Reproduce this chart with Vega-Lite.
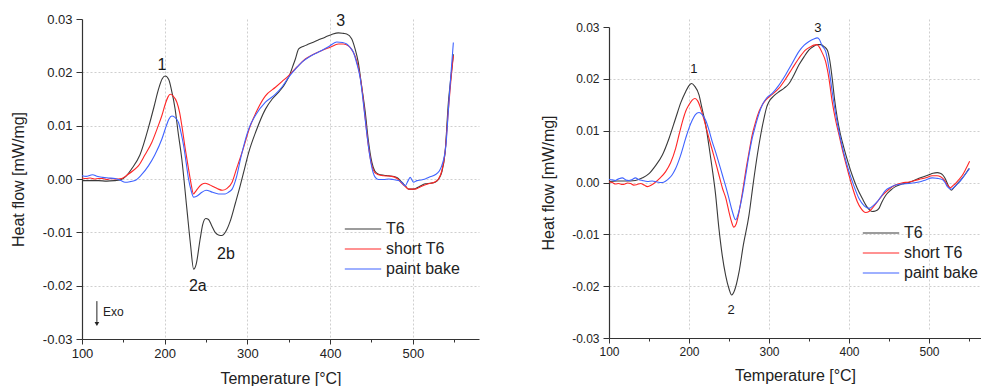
{
  "$schema": "https://vega.github.io/schema/vega-lite/v6.json",
  "padding": {"left": 10, "top": 13, "right": 0, "bottom": 0},
  "spacing": 61,
  "background": "white",
  "config": {
    "font": "Liberation Sans",
    "view": {"stroke": null},
    "axis": {
      "domainColor": "#333333",
      "tickColor": "#333333",
      "labelColor": "#222222",
      "titleColor": "#222222",
      "titleFontWeight": "normal",
      "titleFontSize": 16,
      "gridColor": "#cfcfcf",
      "gridDash": [2, 2],
      "gridWidth": 1,
      "domainWidth": 1.2,
      "labelFlush": false
    },
    "legend": {
      "labelFontSize": 16,
      "labelColor": "#222222",
      "symbolType": "M-2.6,0L2.6,0",
      "symbolStrokeWidth": 1.3,
      "symbolSize": 196,
      "rowPadding": 4,
      "labelOffset": 15,
      "padding": 0
    },
    "line": {"strokeWidth": 1.1, "interpolate": "monotone"}
  },
  "datasets": {
    "leftCurves": [
      {"s":"T6","t":100,"h":-0.0003},{"s":"T6","t":110,"h":-0.0003},{"s":"T6","t":120,"h":-0.0003},{"s":"T6","t":130,"h":-0.0004},{"s":"T6","t":140,"h":-0.0003},{"s":"T6","t":146,"h":-0.0002},{"s":"T6","t":153,"h":0.0005},{"s":"T6","t":160,"h":0.0019},{"s":"T6","t":170,"h":0.0045},{"s":"T6","t":181,"h":0.0100},{"s":"T6","t":187,"h":0.0135},{"s":"T6","t":192.6,"h":0.0169},{"s":"T6","t":197,"h":0.0188},{"s":"T6","t":200.6,"h":0.0193},{"s":"T6","t":205,"h":0.0186},{"s":"T6","t":208,"h":0.0168},{"s":"T6","t":212.6,"h":0.0131},{"s":"T6","t":216,"h":0.0090},{"s":"T6","t":220.7,"h":0.0037},{"s":"T6","t":226.8,"h":-0.0056},{"s":"T6","t":231,"h":-0.0120},{"s":"T6","t":235,"h":-0.0169},{"s":"T6","t":238,"h":-0.0160},{"s":"T6","t":242.8,"h":-0.0113},{"s":"T6","t":246,"h":-0.0085},{"s":"T6","t":249.7,"h":-0.0074},{"s":"T6","t":253,"h":-0.0076},{"s":"T6","t":257,"h":-0.0088},{"s":"T6","t":261,"h":-0.0100},{"s":"T6","t":265,"h":-0.0105},{"s":"T6","t":269,"h":-0.0106},{"s":"T6","t":274,"h":-0.0098},{"s":"T6","t":279,"h":-0.0080},{"s":"T6","t":285.5,"h":-0.0045},{"s":"T6","t":290,"h":-0.0020},{"s":"T6","t":295,"h":0.0010},{"s":"T6","t":301.6,"h":0.0050},{"s":"T6","t":310,"h":0.0088},{"s":"T6","t":321.8,"h":0.0131},{"s":"T6","t":330,"h":0.0150},{"s":"T6","t":337.8,"h":0.0163},{"s":"T6","t":344,"h":0.0175},{"s":"T6","t":349.9,"h":0.0191},{"s":"T6","t":355,"h":0.0212},{"s":"T6","t":358,"h":0.0225},{"s":"T6","t":362,"h":0.0244},{"s":"T6","t":368,"h":0.0249},{"s":"T6","t":374,"h":0.0253},{"s":"T6","t":385,"h":0.0260},{"s":"T6","t":394,"h":0.0266},{"s":"T6","t":402,"h":0.0271},{"s":"T6","t":410,"h":0.0274},{"s":"T6","t":416,"h":0.0273},{"s":"T6","t":420,"h":0.0272},{"s":"T6","t":426,"h":0.0263},{"s":"T6","t":430,"h":0.0245},{"s":"T6","t":434,"h":0.0219},{"s":"T6","t":438,"h":0.0175},{"s":"T6","t":442.5,"h":0.0125},{"s":"T6","t":446,"h":0.0075},{"s":"T6","t":450.5,"h":0.0031},{"s":"T6","t":454,"h":0.0015},{"s":"T6","t":458.6,"h":0.0009},{"s":"T6","t":465,"h":0.0007},{"s":"T6","t":470.6,"h":0.0006},{"s":"T6","t":480.7,"h":0.0003},{"s":"T6","t":486.7,"h":-0.0006},{"s":"T6","t":491,"h":-0.0013},{"s":"T6","t":494.8,"h":-0.0019},{"s":"T6","t":500.8,"h":-0.0019},{"s":"T6","t":508,"h":-0.0014},{"s":"T6","t":515,"h":-0.0009},{"s":"T6","t":521,"h":-0.0008},{"s":"T6","t":527,"h":-0.0006},{"s":"T6","t":532,"h":0.0002},{"s":"T6","t":535,"h":0.0013},{"s":"T6","t":539,"h":0.0050},{"s":"T6","t":543,"h":0.0144},{"s":"T6","t":546,"h":0.0190},{"s":"T6","t":549,"h":0.0234},
      {"s":"short T6","t":100,"h":0.0002},{"s":"short T6","t":105,"h":0.0001},{"s":"short T6","t":110,"h":0.0002},{"s":"short T6","t":115,"h":0.0000},{"s":"short T6","t":120,"h":0.0001},{"s":"short T6","t":125,"h":0.0001},{"s":"short T6","t":130,"h":-0.0001},{"s":"short T6","t":135,"h":0.0001},{"s":"short T6","t":140,"h":0.0000},{"s":"short T6","t":148,"h":0.0001},{"s":"short T6","t":155,"h":0.0008},{"s":"short T6","t":162,"h":0.0016},{"s":"short T6","t":168.4,"h":0.0025},{"s":"short T6","t":176,"h":0.0045},{"s":"short T6","t":184.5,"h":0.0069},{"s":"short T6","t":191,"h":0.0095},{"s":"short T6","t":196.6,"h":0.0119},{"s":"short T6","t":201,"h":0.0142},{"s":"short T6","t":204,"h":0.0154},{"s":"short T6","t":206.6,"h":0.0159},{"s":"short T6","t":210,"h":0.0156},{"s":"short T6","t":214.7,"h":0.0144},{"s":"short T6","t":218,"h":0.0125},{"s":"short T6","t":220.7,"h":0.0100},{"s":"short T6","t":225,"h":0.0055},{"s":"short T6","t":228.8,"h":0.0019},{"s":"short T6","t":232,"h":-0.0010},{"s":"short T6","t":234.8,"h":-0.0028},{"s":"short T6","t":237,"h":-0.0024},{"s":"short T6","t":240.8,"h":-0.0016},{"s":"short T6","t":245,"h":-0.0010},{"s":"short T6","t":248.9,"h":-0.0008},{"s":"short T6","t":253,"h":-0.0010},{"s":"short T6","t":257,"h":-0.0013},{"s":"short T6","t":261,"h":-0.0016},{"s":"short T6","t":265,"h":-0.0019},{"s":"short T6","t":269.4,"h":-0.0021},{"s":"short T6","t":275,"h":-0.0018},{"s":"short T6","t":281.5,"h":-0.0006},{"s":"short T6","t":287,"h":0.0020},{"s":"short T6","t":293.5,"h":0.0050},{"s":"short T6","t":303.6,"h":0.0100},{"s":"short T6","t":312,"h":0.0130},{"s":"short T6","t":321.8,"h":0.0156},{"s":"short T6","t":333.9,"h":0.0172},{"s":"short T6","t":342,"h":0.0183},{"s":"short T6","t":349.9,"h":0.0194},{"s":"short T6","t":360,"h":0.0210},{"s":"short T6","t":370,"h":0.0225},{"s":"short T6","t":380,"h":0.0234},{"s":"short T6","t":390,"h":0.0241},{"s":"short T6","t":400,"h":0.0247},{"s":"short T6","t":410,"h":0.0253},{"s":"short T6","t":416,"h":0.0253},{"s":"short T6","t":422,"h":0.0250},{"s":"short T6","t":426,"h":0.0243},{"s":"short T6","t":430,"h":0.0231},{"s":"short T6","t":434,"h":0.0210},{"s":"short T6","t":438,"h":0.0175},{"s":"short T6","t":442.5,"h":0.0113},{"s":"short T6","t":446,"h":0.0065},{"s":"short T6","t":450.5,"h":0.0025},{"s":"short T6","t":454,"h":0.0012},{"s":"short T6","t":458.6,"h":0.0008},{"s":"short T6","t":465,"h":0.0006},{"s":"short T6","t":474.6,"h":0.0005},{"s":"short T6","t":481,"h":0.0001},{"s":"short T6","t":486.7,"h":-0.0008},{"s":"short T6","t":491,"h":-0.0014},{"s":"short T6","t":494.8,"h":-0.0019},{"s":"short T6","t":502.8,"h":-0.0019},{"s":"short T6","t":510,"h":-0.0014},{"s":"short T6","t":519,"h":-0.0009},{"s":"short T6","t":526,"h":-0.0006},{"s":"short T6","t":531,"h":0.0000},{"s":"short T6","t":535,"h":0.0015},{"s":"short T6","t":539,"h":0.0050},{"s":"short T6","t":543,"h":0.0130},{"s":"short T6","t":546,"h":0.0185},{"s":"short T6","t":549,"h":0.0231},
      {"s":"paint bake","t":100,"h":0.0006},{"s":"paint bake","t":105,"h":0.0005},{"s":"paint bake","t":110,"h":0.0007},{"s":"paint bake","t":113,"h":0.0008},{"s":"paint bake","t":118,"h":0.0005},{"s":"paint bake","t":125,"h":0.0003},{"s":"paint bake","t":132,"h":0.0002},{"s":"paint bake","t":140,"h":0.0001},{"s":"paint bake","t":147,"h":-0.0003},{"s":"paint bake","t":152,"h":-0.0006},{"s":"paint bake","t":158,"h":-0.0005},{"s":"paint bake","t":164,"h":-0.0003},{"s":"paint bake","t":172,"h":0.0008},{"s":"paint bake","t":180.5,"h":0.0025},{"s":"paint bake","t":188,"h":0.0045},{"s":"paint bake","t":196.6,"h":0.0075},{"s":"paint bake","t":202,"h":0.0100},{"s":"paint bake","t":205,"h":0.0112},{"s":"paint bake","t":208.7,"h":0.0118},{"s":"paint bake","t":212,"h":0.0116},{"s":"paint bake","t":216.7,"h":0.0106},{"s":"paint bake","t":220,"h":0.0085},{"s":"paint bake","t":222.8,"h":0.0063},{"s":"paint bake","t":226,"h":0.0030},{"s":"paint bake","t":228.8,"h":0.0000},{"s":"paint bake","t":232,"h":-0.0022},{"s":"paint bake","t":234.8,"h":-0.0034},{"s":"paint bake","t":238,"h":-0.0033},{"s":"paint bake","t":244.9,"h":-0.0025},{"s":"paint bake","t":250,"h":-0.0021},{"s":"paint bake","t":252.9,"h":-0.0022},{"s":"paint bake","t":258,"h":-0.0025},{"s":"paint bake","t":265,"h":-0.0028},{"s":"paint bake","t":273,"h":-0.0028},{"s":"paint bake","t":277,"h":-0.0025},{"s":"paint bake","t":281.5,"h":-0.0019},{"s":"paint bake","t":287,"h":0.0005},{"s":"paint bake","t":292,"h":0.0040},{"s":"paint bake","t":301.6,"h":0.0094},{"s":"paint bake","t":310,"h":0.0120},{"s":"paint bake","t":321.8,"h":0.0144},{"s":"paint bake","t":333.9,"h":0.0159},{"s":"paint bake","t":342,"h":0.0173},{"s":"paint bake","t":349.9,"h":0.0191},{"s":"paint bake","t":358,"h":0.0206},{"s":"paint bake","t":366,"h":0.0219},{"s":"paint bake","t":376,"h":0.0230},{"s":"paint bake","t":386,"h":0.0238},{"s":"paint bake","t":398,"h":0.0248},{"s":"paint bake","t":408,"h":0.0257},{"s":"paint bake","t":415,"h":0.0256},{"s":"paint bake","t":420,"h":0.0253},{"s":"paint bake","t":424,"h":0.0247},{"s":"paint bake","t":428,"h":0.0238},{"s":"paint bake","t":432,"h":0.0218},{"s":"paint bake","t":436.5,"h":0.0188},{"s":"paint bake","t":440.5,"h":0.0138},{"s":"paint bake","t":444,"h":0.0090},{"s":"paint bake","t":448.5,"h":0.0038},{"s":"paint bake","t":452,"h":0.0012},{"s":"paint bake","t":454.6,"h":0.0003},{"s":"paint bake","t":458.6,"h":-0.0001},{"s":"paint bake","t":465,"h":-0.0001},{"s":"paint bake","t":470.6,"h":0.0000},{"s":"paint bake","t":476,"h":-0.0001},{"s":"paint bake","t":482.7,"h":-0.0003},{"s":"paint bake","t":487,"h":-0.0007},{"s":"paint bake","t":490.7,"h":-0.0013},{"s":"paint bake","t":494,"h":-0.0004},{"s":"paint bake","t":496.8,"h":0.0003},{"s":"paint bake","t":500.8,"h":-0.0006},{"s":"paint bake","t":505,"h":-0.0003},{"s":"paint bake","t":510,"h":-0.0002},{"s":"paint bake","t":515,"h":0.0000},{"s":"paint bake","t":521,"h":0.0004},{"s":"paint bake","t":527,"h":0.0008},{"s":"paint bake","t":532,"h":0.0015},{"s":"paint bake","t":535,"h":0.0025},{"s":"paint bake","t":540,"h":0.0063},{"s":"paint bake","t":543,"h":0.0130},{"s":"paint bake","t":545,"h":0.0175},{"s":"paint bake","t":549,"h":0.0256}
    ],
    "rightCurves": [
      {"s":"T6","t":100,"h":0.0002},{"s":"T6","t":110,"h":0.0003},{"s":"T6","t":120,"h":0.0003},{"s":"T6","t":133,"h":0.0004},{"s":"T6","t":142,"h":0.0009},{"s":"T6","t":150,"h":0.0017},{"s":"T6","t":158,"h":0.0032},{"s":"T6","t":166.7,"h":0.0053},{"s":"T6","t":175,"h":0.0085},{"s":"T6","t":183.3,"h":0.0124},{"s":"T6","t":190,"h":0.0155},{"s":"T6","t":195.8,"h":0.0175},{"s":"T6","t":200,"h":0.0187},{"s":"T6","t":203.3,"h":0.0191},{"s":"T6","t":207,"h":0.0186},{"s":"T6","t":212.5,"h":0.0169},{"s":"T6","t":216,"h":0.0145},{"s":"T6","t":220.8,"h":0.0111},{"s":"T6","t":225,"h":0.0070},{"s":"T6","t":229,"h":0.0027},{"s":"T6","t":233,"h":-0.0020},{"s":"T6","t":237.5,"h":-0.0090},{"s":"T6","t":241.5,"h":-0.0140},{"s":"T6","t":245.8,"h":-0.0179},{"s":"T6","t":250,"h":-0.0205},{"s":"T6","t":253.3,"h":-0.0217},{"s":"T6","t":257,"h":-0.0208},{"s":"T6","t":262.5,"h":-0.0173},{"s":"T6","t":268,"h":-0.0120},{"s":"T6","t":275,"h":-0.0063},{"s":"T6","t":280,"h":-0.0005},{"s":"T6","t":285.4,"h":0.0053},{"s":"T6","t":290,"h":0.0095},{"s":"T6","t":293.8,"h":0.0124},{"s":"T6","t":297,"h":0.0145},{"s":"T6","t":300,"h":0.0156},{"s":"T6","t":306,"h":0.0167},{"s":"T6","t":312.5,"h":0.0175},{"s":"T6","t":319,"h":0.0182},{"s":"T6","t":325,"h":0.0191},{"s":"T6","t":331,"h":0.0207},{"s":"T6","t":337.5,"h":0.0227},{"s":"T6","t":344,"h":0.0243},{"s":"T6","t":350,"h":0.0256},{"s":"T6","t":355,"h":0.0262},{"s":"T6","t":360.4,"h":0.0266},{"s":"T6","t":365,"h":0.0266},{"s":"T6","t":369,"h":0.0262},{"s":"T6","t":373,"h":0.0255},{"s":"T6","t":376,"h":0.0235},{"s":"T6","t":379,"h":0.0201},{"s":"T6","t":382,"h":0.0160},{"s":"T6","t":385.4,"h":0.0124},{"s":"T6","t":389,"h":0.0095},{"s":"T6","t":393.8,"h":0.0066},{"s":"T6","t":399,"h":0.0038},{"s":"T6","t":404,"h":0.0014},{"s":"T6","t":410,"h":-0.0010},{"s":"T6","t":416.7,"h":-0.0031},{"s":"T6","t":423,"h":-0.0048},{"s":"T6","t":429,"h":-0.0056},{"s":"T6","t":433,"h":-0.0055},{"s":"T6","t":437.5,"h":-0.0050},{"s":"T6","t":441,"h":-0.0038},{"s":"T6","t":445.8,"h":-0.0025},{"s":"T6","t":452,"h":-0.0015},{"s":"T6","t":458,"h":-0.0008},{"s":"T6","t":466,"h":-0.0003},{"s":"T6","t":475,"h":0.0000},{"s":"T6","t":487.5,"h":0.0008},{"s":"T6","t":500,"h":0.0015},{"s":"T6","t":505,"h":0.0018},{"s":"T6","t":510.4,"h":0.0019},{"s":"T6","t":514,"h":0.0018},{"s":"T6","t":517.5,"h":0.0014},{"s":"T6","t":520,"h":0.0008},{"s":"T6","t":523,"h":-0.0002},{"s":"T6","t":526,"h":-0.0012},{"s":"T6","t":528,"h":-0.0015},{"s":"T6","t":531,"h":-0.0010},{"s":"T6","t":537.5,"h":0.0001},{"s":"T6","t":544,"h":0.0013},{"s":"T6","t":550,"h":0.0027},
      {"s":"short T6","t":100,"h":0.0001},{"s":"short T6","t":104,"h":0.0000},{"s":"short T6","t":108,"h":-0.0003},{"s":"short T6","t":112,"h":-0.0002},{"s":"short T6","t":116.7,"h":-0.0004},{"s":"short T6","t":120,"h":-0.0003},{"s":"short T6","t":123,"h":-0.0001},{"s":"short T6","t":127,"h":-0.0002},{"s":"short T6","t":131,"h":-0.0005},{"s":"short T6","t":135,"h":-0.0004},{"s":"short T6","t":139.6,"h":-0.0002},{"s":"short T6","t":144,"h":-0.0005},{"s":"short T6","t":148,"h":-0.0008},{"s":"short T6","t":153,"h":-0.0005},{"s":"short T6","t":158.3,"h":0.0001},{"s":"short T6","t":164,"h":0.0009},{"s":"short T6","t":170.8,"h":0.0021},{"s":"short T6","t":177,"h":0.0038},{"s":"short T6","t":183.3,"h":0.0066},{"s":"short T6","t":188,"h":0.0095},{"s":"short T6","t":191.7,"h":0.0117},{"s":"short T6","t":196,"h":0.0138},{"s":"short T6","t":200,"h":0.0150},{"s":"short T6","t":204,"h":0.0159},{"s":"short T6","t":207.5,"h":0.0162},{"s":"short T6","t":211,"h":0.0157},{"s":"short T6","t":214.6,"h":0.0143},{"s":"short T6","t":219,"h":0.0120},{"s":"short T6","t":225,"h":0.0085},{"s":"short T6","t":231,"h":0.0052},{"s":"short T6","t":237.5,"h":0.0014},{"s":"short T6","t":242,"h":-0.0012},{"s":"short T6","t":246,"h":-0.0030},{"s":"short T6","t":250,"h":-0.0057},{"s":"short T6","t":253,"h":-0.0075},{"s":"short T6","t":256,"h":-0.0086},{"s":"short T6","t":259,"h":-0.0080},{"s":"short T6","t":262.5,"h":-0.0057},{"s":"short T6","t":266.7,"h":-0.0020},{"s":"short T6","t":270.8,"h":0.0021},{"s":"short T6","t":275,"h":0.0058},{"s":"short T6","t":279,"h":0.0092},{"s":"short T6","t":283.3,"h":0.0117},{"s":"short T6","t":287.5,"h":0.0137},{"s":"short T6","t":291.7,"h":0.0150},{"s":"short T6","t":295.8,"h":0.0159},{"s":"short T6","t":304,"h":0.0170},{"s":"short T6","t":312.5,"h":0.0182},{"s":"short T6","t":320,"h":0.0198},{"s":"short T6","t":329,"h":0.0220},{"s":"short T6","t":337.5,"h":0.0240},{"s":"short T6","t":345.8,"h":0.0256},{"s":"short T6","t":352,"h":0.0262},{"s":"short T6","t":356,"h":0.0265},{"s":"short T6","t":360,"h":0.0266},{"s":"short T6","t":362.5,"h":0.0262},{"s":"short T6","t":366,"h":0.0252},{"s":"short T6","t":370.8,"h":0.0233},{"s":"short T6","t":375,"h":0.0200},{"s":"short T6","t":379,"h":0.0156},{"s":"short T6","t":383,"h":0.0122},{"s":"short T6","t":387.5,"h":0.0092},{"s":"short T6","t":393,"h":0.0055},{"s":"short T6","t":400,"h":0.0014},{"s":"short T6","t":405,"h":-0.0013},{"s":"short T6","t":410.4,"h":-0.0037},{"s":"short T6","t":415,"h":-0.0050},{"s":"short T6","t":420.8,"h":-0.0058},{"s":"short T6","t":425,"h":-0.0056},{"s":"short T6","t":429,"h":-0.0050},{"s":"short T6","t":435,"h":-0.0038},{"s":"short T6","t":441.7,"h":-0.0025},{"s":"short T6","t":450,"h":-0.0013},{"s":"short T6","t":458,"h":-0.0005},{"s":"short T6","t":466,"h":-0.0001},{"s":"short T6","t":475,"h":0.0001},{"s":"short T6","t":487.5,"h":0.0006},{"s":"short T6","t":496,"h":0.0009},{"s":"short T6","t":504,"h":0.0013},{"s":"short T6","t":510,"h":0.0013},{"s":"short T6","t":514.6,"h":0.0011},{"s":"short T6","t":519,"h":0.0005},{"s":"short T6","t":523,"h":-0.0005},{"s":"short T6","t":527,"h":-0.0010},{"s":"short T6","t":530,"h":-0.0006},{"s":"short T6","t":533,"h":-0.0002},{"s":"short T6","t":537,"h":0.0005},{"s":"short T6","t":541.7,"h":0.0014},{"s":"short T6","t":546,"h":0.0026},{"s":"short T6","t":550.8,"h":0.0041},
      {"s":"paint bake","t":100,"h":0.0006},{"s":"paint bake","t":104,"h":0.0005},{"s":"paint bake","t":108,"h":0.0004},{"s":"paint bake","t":112,"h":0.0007},{"s":"paint bake","t":116.7,"h":0.0009},{"s":"paint bake","t":121,"h":0.0005},{"s":"paint bake","t":125,"h":0.0004},{"s":"paint bake","t":129,"h":0.0006},{"s":"paint bake","t":133,"h":0.0009},{"s":"paint bake","t":137,"h":0.0006},{"s":"paint bake","t":141.7,"h":0.0004},{"s":"paint bake","t":148,"h":0.0002},{"s":"paint bake","t":154,"h":0.0003},{"s":"paint bake","t":160,"h":0.0001},{"s":"paint bake","t":166.7,"h":0.0000},{"s":"paint bake","t":171,"h":0.0003},{"s":"paint bake","t":175,"h":0.0008},{"s":"paint bake","t":179,"h":0.0015},{"s":"paint bake","t":183.3,"h":0.0027},{"s":"paint bake","t":189,"h":0.0050},{"s":"paint bake","t":195.8,"h":0.0085},{"s":"paint bake","t":200,"h":0.0105},{"s":"paint bake","t":204,"h":0.0120},{"s":"paint bake","t":208,"h":0.0131},{"s":"paint bake","t":212.5,"h":0.0135},{"s":"paint bake","t":216.5,"h":0.0131},{"s":"paint bake","t":220.8,"h":0.0120},{"s":"paint bake","t":225,"h":0.0101},{"s":"paint bake","t":229,"h":0.0079},{"s":"paint bake","t":233,"h":0.0060},{"s":"paint bake","t":237.5,"h":0.0037},{"s":"paint bake","t":242,"h":0.0013},{"s":"paint bake","t":246,"h":-0.0008},{"s":"paint bake","t":250,"h":-0.0031},{"s":"paint bake","t":254,"h":-0.0055},{"s":"paint bake","t":258.3,"h":-0.0072},{"s":"paint bake","t":262,"h":-0.0058},{"s":"paint bake","t":266.7,"h":-0.0025},{"s":"paint bake","t":271,"h":0.0015},{"s":"paint bake","t":275,"h":0.0053},{"s":"paint bake","t":279,"h":0.0085},{"s":"paint bake","t":283.3,"h":0.0111},{"s":"paint bake","t":287.5,"h":0.0133},{"s":"paint bake","t":291.7,"h":0.0150},{"s":"paint bake","t":297,"h":0.0163},{"s":"paint bake","t":304,"h":0.0172},{"s":"paint bake","t":312,"h":0.0187},{"s":"paint bake","t":320.8,"h":0.0208},{"s":"paint bake","t":329,"h":0.0230},{"s":"paint bake","t":337.5,"h":0.0253},{"s":"paint bake","t":344,"h":0.0265},{"s":"paint bake","t":350,"h":0.0272},{"s":"paint bake","t":356,"h":0.0277},{"s":"paint bake","t":360.4,"h":0.0279},{"s":"paint bake","t":363,"h":0.0276},{"s":"paint bake","t":366,"h":0.0265},{"s":"paint bake","t":370.8,"h":0.0253},{"s":"paint bake","t":375,"h":0.0220},{"s":"paint bake","t":379,"h":0.0175},{"s":"paint bake","t":383,"h":0.0135},{"s":"paint bake","t":387.5,"h":0.0098},{"s":"paint bake","t":393,"h":0.0060},{"s":"paint bake","t":400,"h":0.0021},{"s":"paint bake","t":406,"h":-0.0006},{"s":"paint bake","t":412.5,"h":-0.0031},{"s":"paint bake","t":419,"h":-0.0045},{"s":"paint bake","t":425,"h":-0.0050},{"s":"paint bake","t":430,"h":-0.0045},{"s":"paint bake","t":435.4,"h":-0.0037},{"s":"paint bake","t":441,"h":-0.0025},{"s":"paint bake","t":445.8,"h":-0.0015},{"s":"paint bake","t":452,"h":-0.0009},{"s":"paint bake","t":458,"h":-0.0005},{"s":"paint bake","t":466,"h":-0.0003},{"s":"paint bake","t":475,"h":-0.0002},{"s":"paint bake","t":487.5,"h":0.0001},{"s":"paint bake","t":496,"h":0.0005},{"s":"paint bake","t":504,"h":0.0009},{"s":"paint bake","t":510,"h":0.0008},{"s":"paint bake","t":516.7,"h":0.0006},{"s":"paint bake","t":520,"h":0.0000},{"s":"paint bake","t":523,"h":-0.0008},{"s":"paint bake","t":528,"h":-0.0013},{"s":"paint bake","t":532,"h":-0.0008},{"s":"paint bake","t":537.5,"h":0.0000},{"s":"paint bake","t":544,"h":0.0013},{"s":"paint bake","t":550.8,"h":0.0027}
    ],
    "leftLabels": [
      {"txt":"1","t":196.6,"h":0.0214},
      {"txt":"3","t":412.7,"h":0.0296},
      {"txt":"2a","t":240,"h":-0.0201},
      {"txt":"2b","t":274,"h":-0.0141}
    ],
    "rightLabels": [
      {"txt":"1","t":206,"h":0.0219},
      {"txt":"2","t":252.5,"h":-0.0246},
      {"txt":"3","t":361,"h":0.0298}
    ],
    "exoArrow": [{"t":118,"top":-0.0229,"bottom":-0.0268}],
    "exoTip": [{"t":118,"h":-0.0272}],
    "exoText": [{"txt":"Exo","t":125.5,"h":-0.0249}]
  },
  "hconcat": [
    {
      "width": 397,
      "height": 320,
      "layer": [
        {
          "data": {"name": "leftCurves"},
          "mark": {"type": "line", "clip": true},
          "encoding": {
            "x": {
              "field": "t", "type": "quantitative",
              "scale": {"domain": [100, 580], "nice": false, "zero": false},
              "axis": {
                "title": "Temperature [°C]",
                "values": [100, 150, 200, 250, 300, 350, 400, 450, 500, 550],
                "labelExpr": "datum.value % 100 === 0 ? datum.label : ''",
                "labelFontSize": 13,
                "labelPadding": 3,
                "titlePadding": 10,
                "tickSize": {"condition": {"test": "datum.value % 100 === 0", "value": 5}, "value": 3},
                "gridOpacity": {"condition": {"test": "datum.value % 100 === 0 && datum.value > 100", "value": 1}, "value": 0}
              }
            },
            "y": {
              "field": "h", "type": "quantitative",
              "scale": {"domain": [-0.03, 0.03], "nice": false, "zero": false},
              "axis": {
                "title": "Heat flow [mW/mg]",
                "values": [-0.03, -0.025, -0.02, -0.015, -0.01, -0.005, 0, 0.005, 0.01, 0.015, 0.02, 0.025, 0.03],
                "labelExpr": "abs(datum.value*100 - round(datum.value*100)) < 0.001 ? replace(format(datum.value, '.2f'), '\u2212', '-') : ''",
                "labelFontSize": 13,
                "labelPadding": 4,
                "titlePadding": 16,
                "tickSize": {"condition": {"test": "abs(datum.value*100 - round(datum.value*100)) < 0.001", "value": 6}, "value": 3},
                "gridOpacity": {"condition": {"test": "abs(datum.value*100 - round(datum.value*100)) < 0.001 && abs(datum.value) < 0.025", "value": 1}, "value": 0}
              }
            },
            "color": {
              "field": "s", "type": "nominal",
              "scale": {"domain": ["T6", "short T6", "paint bake"], "range": ["#3a3a3a", "#ff2626", "#3f63ff"]},
              "legend": {"title": null, "orient": "none", "legendX": 273, "legendY": 202}
            }
          }
        },
        {
          "data": {"name": "leftLabels"},
          "mark": {"type": "text", "fontSize": 16, "color": "#1a1a1a", "align": "center", "baseline": "middle"},
          "encoding": {
            "x": {"field": "t", "type": "quantitative"},
            "y": {"field": "h", "type": "quantitative"},
            "text": {"field": "txt"}
          }
        },
        {
          "data": {"name": "exoArrow"},
          "mark": {"type": "rule", "color": "#222222", "strokeWidth": 1},
          "encoding": {
            "x": {"field": "t", "type": "quantitative"},
            "y": {"field": "top", "type": "quantitative"},
            "y2": {"field": "bottom"}
          }
        },
        {
          "data": {"name": "exoTip"},
          "mark": {"type": "point", "shape": "triangle-down", "filled": true, "color": "#222222", "size": 22, "opacity": 1},
          "encoding": {
            "x": {"field": "t", "type": "quantitative"},
            "y": {"field": "h", "type": "quantitative"}
          }
        },
        {
          "data": {"name": "exoText"},
          "mark": {"type": "text", "fontSize": 12, "color": "#222222", "align": "left", "baseline": "middle"},
          "encoding": {
            "x": {"field": "t", "type": "quantitative"},
            "y": {"field": "h", "type": "quantitative"},
            "text": {"field": "txt"}
          }
        }
      ]
    },
    {
      "width": 372,
      "height": 319,
      "layer": [
        {
          "data": {"name": "rightCurves"},
          "mark": {"type": "line", "clip": true},
          "encoding": {
            "x": {
              "field": "t", "type": "quantitative",
              "scale": {"domain": [100, 565], "nice": false, "zero": false},
              "axis": {
                "title": "Temperature [°C]",
                "values": [100, 150, 200, 250, 300, 350, 400, 450, 500, 550],
                "labelExpr": "datum.value % 100 === 0 ? datum.label : ''",
                "labelFontSize": 12,
                "labelPadding": 3,
                "titlePadding": 10,
                "tickSize": {"condition": {"test": "datum.value % 100 === 0", "value": 5}, "value": 3},
                "gridOpacity": {"condition": {"test": "datum.value % 100 === 0 && datum.value > 100", "value": 1}, "value": 0}
              }
            },
            "y": {
              "field": "h", "type": "quantitative",
              "scale": {"domain": [-0.03, 0.03], "nice": false, "zero": false, "range": [319, 8]},
              "axis": {
                "title": "Heat flow [mW/mg]",
                "values": [-0.03, -0.025, -0.02, -0.015, -0.01, -0.005, 0, 0.005, 0.01, 0.015, 0.02, 0.025, 0.03],
                "labelExpr": "abs(datum.value*100 - round(datum.value*100)) < 0.001 ? replace(format(datum.value, '.2f'), '\u2212', '-') : ''",
                "labelFontSize": 12,
                "labelPadding": 4,
                "titlePadding": 15,
                "tickSize": {"condition": {"test": "abs(datum.value*100 - round(datum.value*100)) < 0.001", "value": 6}, "value": 3},
                "gridOpacity": {"condition": {"test": "abs(datum.value*100 - round(datum.value*100)) < 0.001 && abs(datum.value) < 0.025", "value": 1}, "value": 0}
              }
            },
            "color": {
              "field": "s", "type": "nominal",
              "scale": {"domain": ["T6", "short T6", "paint bake"], "range": ["#3a3a3a", "#ff2626", "#3f63ff"]},
              "legend": {"title": null, "orient": "none", "legendX": 264, "legendY": 206}
            }
          }
        },
        {
          "data": {"name": "rightLabels"},
          "mark": {"type": "text", "fontSize": 13, "color": "#1a1a1a", "align": "center", "baseline": "middle"},
          "encoding": {
            "x": {"field": "t", "type": "quantitative"},
            "y": {"field": "h", "type": "quantitative"},
            "text": {"field": "txt"}
          }
        }
      ]
    }
  ],
  "resolve": {"scale": {"color": "independent"}}
}
